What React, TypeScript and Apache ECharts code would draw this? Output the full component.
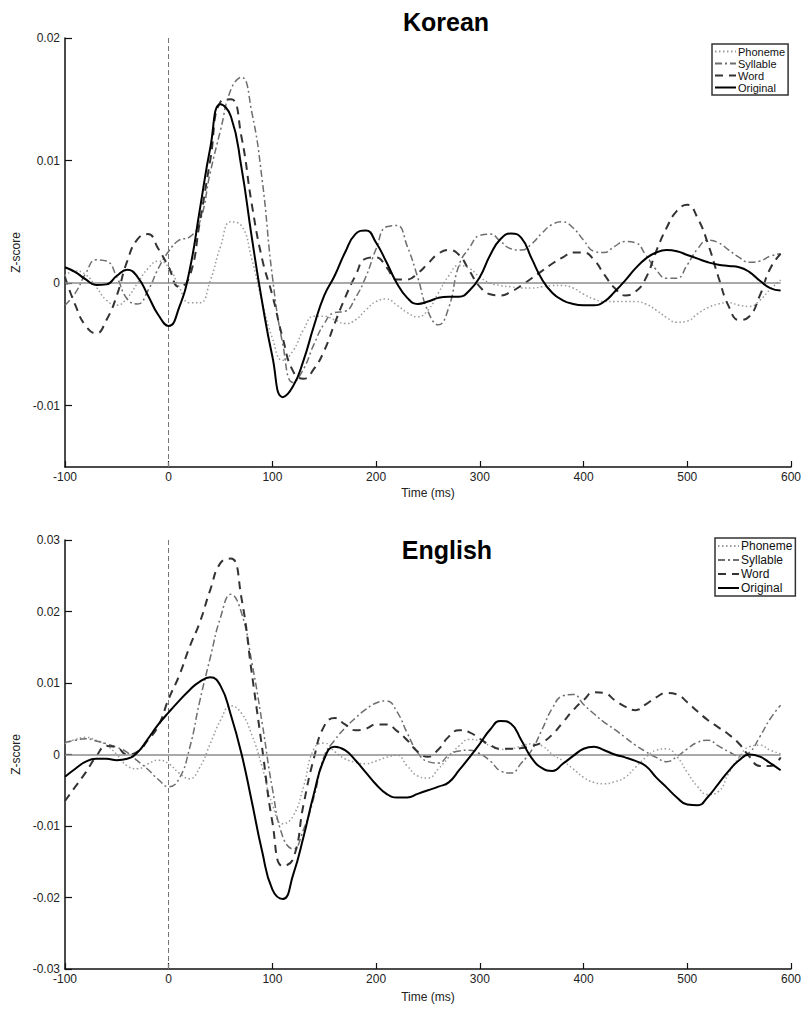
import React, { useEffect, useRef } from "react";
import * as echarts from "echarts";

// Time axis (ms), sampled every 10 ms
const times = [
  -100, -90, -80, -70, -60, -50, -40, -30, -20, -10,
  0, 10, 20, 30, 40, 50, 60, 70, 80, 90,
  100, 110, 120, 130, 140, 150, 160, 170, 180, 190,
  200, 210, 220, 230, 240, 250, 260, 270, 280, 290,
  300, 310, 320, 330, 340, 350, 360, 370, 380, 390,
  400, 410, 420, 430, 440, 450, 460, 470, 480, 490,
  500, 510, 520, 530, 540, 550, 560, 570, 580, 590,
];

// Values in units of 0.001 (Z-score)
// ---- Korean ----
const koreanPhoneme = [
  0.6, 1.0, 0.7, -0.3, -1.4, -1.8, -1.2, 0.0, 1.2, 1.8,
  1.3, -0.3, -1.6, -1.6, 0.2, 3.0, 5.0, 4.7, 2.0, -1.5,
  -4.5, -6.3, -5.5, -3.8, -2.7, -2.7, -3.0, -3.3, -3.0, -2.2,
  -1.5, -1.3, -1.8, -2.4, -2.75, -2.2, -0.8, 0.6, 1.45, 1.2,
  0.5, 0.0, -0.2, -0.3, -0.4, -0.4, -0.3, -0.2, -0.2, -0.4,
  -0.9, -1.3, -1.5, -1.5, -1.5, -1.5, -1.7, -2.2, -2.8, -3.2,
  -3.1, -2.5, -2.0, -1.7, -1.6, -1.8, -1.9, -1.4, -0.5, 0.25,
];
const koreanSyllable = [
  -1.8, -0.8, 0.8, 1.9, 1.8, 0.5, -1.3, -1.7, -0.6, 1.2,
  2.6, 3.5, 3.75, 5.0, 9.0, 12.5, 15.8, 16.8, 14.0, 8.5,
  0.5, -5.0, -8.1, -7.0, -5.0, -3.3, -2.4, -2.3, -1.2, 0.5,
  2.8, 4.6, 4.7, 3.0, 0.5, -2.3, -3.4, -2.0, 1.5, 2.9,
  3.9, 4.0, 3.4, 2.8, 2.7, 3.2, 4.1, 4.8, 5.0, 4.5,
  3.5, 2.6, 2.5, 3.0, 3.4, 3.3, 2.3, 1.1, 0.4, 0.4,
  1.5, 2.8, 3.5, 3.3, 2.7, 2.1, 1.7, 1.8, 2.2, 2.4,
];
const koreanWord = [
  0.5, -1.8, -3.5, -4.1, -3.0, -1.0, 1.8, 3.6, 4.0, 2.8,
  1.3, -0.3, 0.5, 5.0, 10.0, 14.8, 15.0, 12.0, 6.5, 2.0,
  -1.0, -4.5, -7.2, -7.8, -7.0, -5.5, -3.3, -1.2, 0.6, 2.0,
  2.1, 1.3, 0.3, 0.3, 0.8, 1.6, 2.4, 2.7, 2.3, 1.0,
  -0.3, -0.9, -1.0, -0.7, -0.2, 0.4, 1.0, 1.6, 2.1, 2.5,
  2.5, 1.9, 0.7, -0.4, -1.0, -0.7, 0.4, 2.6, 4.5, 5.9,
  6.4, 5.3, 3.2, 0.5, -1.9, -3.0, -2.7, -1.0, 1.2, 2.4,
];
const koreanOriginal = [
  1.3, 0.9, 0.3, -0.15, -0.1, 0.6, 1.1, 0.5, -1.0, -2.6,
  -3.5, -2.0, 1.0, 6.0, 11.0, 14.6, 13.6, 9.5, 3.8, -1.5,
  -6.0, -9.3, -8.4, -6.3, -3.5, -1.0, 0.6, 2.5, 4.0, 4.3,
  3.3, 1.7, 0.0, -1.2, -1.7, -1.5, -1.2, -1.1, -1.1, -0.6,
  0.5, 2.3, 3.6, 4.05, 3.7, 2.0, 0.3, -0.8, -1.4, -1.7,
  -1.8, -1.8, -1.5, -0.7, 0.2, 1.2, 2.0, 2.5, 2.7, 2.6,
  2.3, 2.0, 1.7, 1.5, 1.4, 1.3, 0.9, 0.2, -0.4, -0.6,
];

// ---- English ----
const englishPhoneme = [
  1.5, 2.1, 2.4, 2.0, 1.3, 0.0, -1.6, -2.0, -1.3, -0.8,
  -1.3, -2.6, -3.4, -1.8, 1.5, 4.8, 6.8, 5.8, 2.8, -1.7,
  -7.0, -9.7, -8.6, -4.5, 0.8, 1.6, 0.4, -0.6, -1.1, -1.3,
  -0.9, -0.4, -0.1, -1.6, -3.0, -3.3, -2.0, -0.4, 1.2, 2.1,
  1.9, 1.2, 0.7, 0.8, 1.2, 1.5, 1.2, 0.0, -0.9, -2.0,
  -3.2, -3.9, -4.1, -3.8, -3.2, -1.8, -0.4, 0.6, 0.8, -0.3,
  -2.5, -4.5, -5.6, -5.2, -2.6, -0.4, 1.1, 1.3, 0.6, 0.1,
];
const englishSyllable = [
  1.7, 2.0, 2.2, 1.9, 1.5, 1.0, 0.3, -0.9, -2.1, -3.5,
  -4.5, -3.4, 0.8, 7.5, 13.5, 19.2, 22.4, 19.9, 13.0, 4.5,
  -4.8, -11.5, -13.2, -10.5, -6.0, -0.2, 2.0, 3.7, 5.1, 6.3,
  7.2, 7.5, 6.0, 3.0, 0.3, -1.0, -1.2, -0.1, 0.5, 0.6,
  0.1, -0.9, -2.3, -2.6, -1.2, 0.6, 3.5, 6.5, 8.2, 8.4,
  7.0, 5.7, 4.5, 3.5, 2.4, 1.3, 0.4, -0.4, -1.0, -0.3,
  0.8, 1.7, 2.0, 1.2, 0.4, -0.2, 0.3, 2.5, 5.0, 6.9,
];
const englishWord = [
  -6.5, -4.5, -2.5, -0.3, 1.2, 1.0, 0.0, 0.4, 2.0, 4.0,
  7.8, 11.0, 15.0, 18.5, 23.0, 26.8, 27.4, 22.0, 11.5, 1.0,
  -9.5, -15.6, -14.6, -7.0, -0.5, 4.0, 5.1, 4.2, 3.4, 3.6,
  4.2, 4.2, 3.3, 2.0, 0.4, -0.3, 0.7, 2.5, 3.4, 3.1,
  2.2, 1.3, 0.8, 0.8, 0.9, 1.2, 1.7, 2.8, 4.5, 6.2,
  7.6, 8.7, 8.6, 7.6, 6.7, 6.2, 7.0, 8.0, 8.6, 8.4,
  7.3, 6.0, 4.8, 3.8, 2.8, 1.5, -0.3, -1.6, -1.6, -0.4,
];
const englishOriginal = [
  -3.1, -2.0, -1.0, -0.6, -0.6, -0.8, -0.6, 0.3, 2.2, 4.2,
  5.9, 7.5, 9.0, 10.2, 10.8, 9.6, 5.5, 0.2, -6.5, -13.5,
  -18.9, -20.2, -16.8, -11.5, -5.5, -0.6, 1.1, 0.6, -0.8, -2.5,
  -4.2, -5.5, -6.0, -6.0, -5.5, -5.0, -4.5, -3.9, -2.2, -0.4,
  1.5, 3.5, 4.7, 4.3, 2.0, -0.5, -1.9, -2.3, -1.3, -0.2,
  0.8, 1.1, 0.6, 0.0, -0.4, -0.9, -1.6, -3.2, -4.6, -6.0,
  -7.0, -7.1, -5.9, -4.1, -2.3, -0.8, 0.0, -0.3, -1.2, -2.2,
];

const seriesNames = ["Phoneme", "Syllable", "Word", "Original"];
const xTicks = [-100, 0, 100, 200, 300, 400, 500, 600];
const koreanYTicks = [-0.01, 0, 0.01, 0.02];
const englishYTicks = [-0.03, -0.02, -0.01, 0, 0.01, 0.02, 0.03];
const koreanRange = [-0.015, 0.02];
const englishRange = [-0.03, 0.03];
const zeroLineEnd = 590;

const FONT = "'Liberation Sans', Arial, Helvetica, sans-serif";

const lineStyles: Record<string, any> = {
  Phoneme: { color: "#9a9a9a", width: 1.5, type: [1.5, 2.5] },
  Syllable: { color: "#6e6e6e", width: 1.5, type: [7, 3, 2, 3] },
  Word: { color: "#333333", width: 2, type: [8, 6] },
  Original: { color: "#000000", width: 2, type: "solid" },
};

const toPairs = (vals: number[]) => vals.map((v, i) => [times[i], v * 0.001]);

function fmt(v: number) {
  if (Math.abs(v) < 1e-12) return "0";
  return String(Math.round(v * 1000) / 1000);
}

export default function App() {
  const ref = useRef<HTMLDivElement>(null);

  useEffect(() => {
    if (!ref.current) return;
    const chart = echarts.init(ref.current, undefined, { renderer: "svg" });

    const grids = [
      { left: 65, top: 38, width: 727, height: 429 },
      { left: 65, top: 540, width: 727, height: 429 },
    ];

    const makeX = (gi: number, gap: number) => ({
      type: "value",
      gridIndex: gi,
      min: -100,
      max: 600,
      interval: 100,
      name: "Time (ms)",
      nameLocation: "middle",
      nameGap: gap,
      nameTextStyle: { fontFamily: FONT, fontSize: 12, color: "#222" },
      axisLine: { show: true, onZero: false, lineStyle: { color: "#111", width: 1.5 } },
      axisTick: { show: true, inside: true, length: 6, lineStyle: { color: "#111", width: 1.2 }, customValues: xTicks },
      axisLabel: { fontFamily: FONT, fontSize: 12, color: "#222", margin: 4, customValues: xTicks, formatter: (v: number) => String(v) },
      splitLine: { show: false },
    });

    const makeY = (gi: number, range: number[], ticks: number[]) => ({
      type: "value",
      gridIndex: gi,
      min: range[0],
      max: range[1],
      name: "Z-score",
      nameLocation: "middle",
      nameGap: 40,
      nameTextStyle: { fontFamily: FONT, fontSize: 12, color: "#222" },
      axisLine: { show: true, onZero: false, lineStyle: { color: "#111", width: 1.5 } },
      axisTick: { show: true, inside: true, length: 7, lineStyle: { color: "#111", width: 1.2 }, customValues: ticks },
      axisLabel: { fontFamily: FONT, fontSize: 12, color: "#222", margin: 5, customValues: ticks, formatter: (v: number) => fmt(v) },
      splitLine: { show: false },
    });

    const datasets = [
      [koreanPhoneme, koreanSyllable, koreanWord, koreanOriginal],
      [englishPhoneme, englishSyllable, englishWord, englishOriginal],
    ];
    const ranges = [koreanRange, englishRange];

    const series: any[] = [];
    datasets.forEach((group, gi) => {
      // reference lines
      series.push({
        type: "line",
        name: "ref" + gi,
        xAxisIndex: gi,
        yAxisIndex: gi,
        data: [],
        z: 1,
        markLine: {
          silent: true,
          symbol: ["none", "none"],
          label: { show: false },
          data: [
            [
              { coord: [-100, 0], lineStyle: { color: "#8c8c8c", width: 1.5, type: "solid" } },
              { coord: [zeroLineEnd, 0] },
            ],
            [
              { coord: [0, ranges[gi][0]], lineStyle: { color: "#777", width: 1, type: [5, 3] } },
              { coord: [0, ranges[gi][1]] },
            ],
          ],
        },
      });
      group.forEach((vals, si) => {
        const name = seriesNames[si];
        series.push({
          type: "line",
          name,
          xAxisIndex: gi,
          yAxisIndex: gi,
          data: toPairs(vals),
          smooth: 0.5,
          symbol: "none",
          showSymbol: false,
          z: 2 + si,
          lineStyle: lineStyles[name],
          itemStyle: { color: lineStyles[name].color },
        });
      });
    });

    const legendBase = {
      orient: "vertical",
      data: seriesNames,
      borderColor: "#333",
      borderWidth: 1.5,
      backgroundColor: "#fff",
      borderRadius: 0,
      selectedMode: false,
      itemWidth: 21,
      itemStyle: { opacity: 0 },
    };

    chart.setOption({
      animation: false,
      backgroundColor: "#fff",
      grid: grids,
      xAxis: [makeX(0, 20), makeX(1, 22)],
      yAxis: [makeY(0, koreanRange, koreanYTicks), makeY(1, englishRange, englishYTicks)],
      legend: [
        {
          ...legendBase,
          left: 712,
          top: 44,
          itemHeight: 12,
          itemGap: 1,
          padding: [2, 3, 2, 2],
          textStyle: { fontFamily: FONT, fontSize: 11, color: "#111", padding: [0, 0, 0, -3] },
        },
        {
          ...legendBase,
          left: 715,
          top: 538,
          itemHeight: 13,
          itemGap: 2,
          padding: [2, 3, 2, 2],
          textStyle: { fontFamily: FONT, fontSize: 12, color: "#111", padding: [0, 0, 0, -3] },
        },
      ],
      graphic: [
        {
          type: "text",
          x: 446,
          y: 22,
          style: { text: "Korean", font: "bold 25px " + FONT, fill: "#000", textAlign: "center", textVerticalAlign: "middle" },
        },
        {
          type: "text",
          x: 447,
          y: 550,
          style: { text: "English", font: "bold 25px " + FONT, fill: "#000", textAlign: "center", textVerticalAlign: "middle" },
        },
      ],
      series,
    });

    return () => chart.dispose();
  }, []);

  return (
    <div
      ref={ref}
      style={{ position: "absolute", left: 0, top: 0, width: 804, height: 1009, background: "#fff" }}
    />
  );
}
